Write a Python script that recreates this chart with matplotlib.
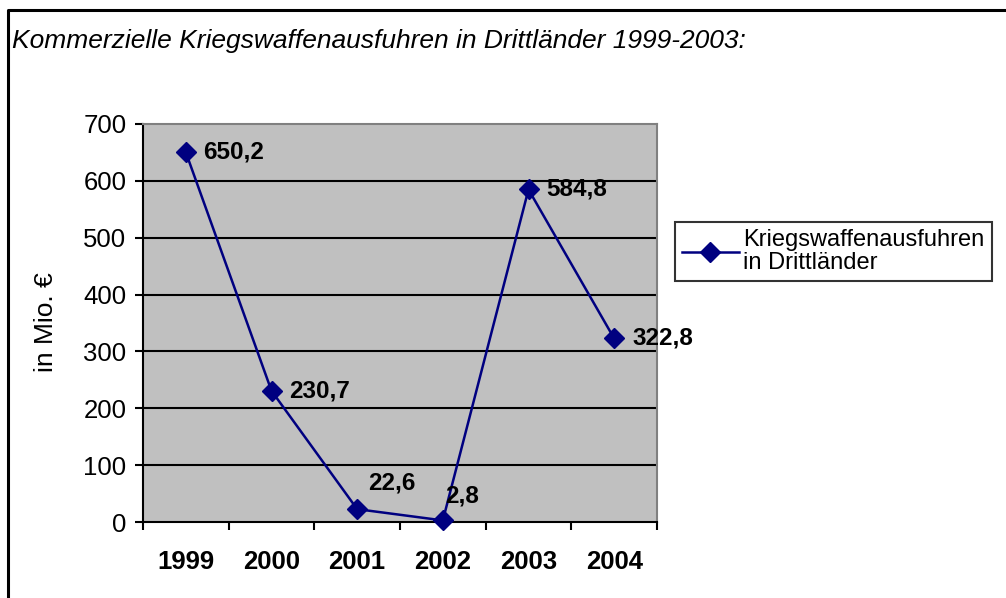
import matplotlib
matplotlib.use("Agg")
import matplotlib.pyplot as plt
from matplotlib.lines import Line2D

years = ["1999", "2000", "2001", "2002", "2003", "2004"]
values = [650.2, 230.7, 22.6, 2.8, 584.8, 322.8]
labels = ["650,2", "230,7", "22,6", "2,8", "584,8", "322,8"]
series_name = "Kriegswaffenausfuhren\nin Drittländer"
title = "Kommerzielle Kriegswaffenausfuhren in Drittländer 1999-2003:"
ylabel = "in Mio. €"
yticks = [0, 100, 200, 300, 400, 500, 600, 700]

# label offsets in pixels (style)
label_offsets = [(17, 0), (18, 0), (11, 26), (2, 24), (18, 0), (18, 0)]

plt.rcParams['font.family'] = ['Liberation Sans', 'DejaVu Sans']

W, H = 1006, 598
fig = plt.figure(figsize=(W / 100, H / 100), dpi=100)
fig.patch.set_facecolor("white")

def fx(px):
    return px / W

def fy(py):
    return 1 - py / H

left, right, top, bottom = 143, 657, 124, 522
ax = fig.add_axes([fx(left), fy(bottom), fx(right - left), (bottom - top) / H])
ax.set_facecolor("#C0C0C0")

x = list(range(len(years)))
ax.plot(x, values, color="#000080", lw=1.8, marker="D", markersize=10,
        markerfacecolor="#000080", markeredgecolor="#000080",
        label=series_name, zorder=3, clip_on=False)

for xi, v, lab, off in zip(x, values, labels, label_offsets):
    ax.annotate(lab, (xi, v), xytext=off, textcoords="offset pixels",
                ha="left", va="center", fontsize=17.5, fontweight="bold",
                color="black", zorder=4, annotation_clip=False)

ax.set_xlim(-0.5, len(years) - 0.5)
ax.set_ylim(0, 700)
ax.set_yticks(yticks)
ax.set_yticklabels([str(t) for t in yticks], fontsize=18.5)
for t in yticks[1:-1]:
    ax.axhline(t, color="black", lw=1.5, zorder=1)

ax.set_xticks([i - 0.5 for i in range(len(years) + 1)])
ax.set_xticklabels([])
ax.set_xticks(x, minor=True)
ax.set_xticklabels(years, minor=True, fontsize=18.5, fontweight="bold")
ax.tick_params(axis="x", which="major", direction="out", length=6, width=1.5, color="black")
ax.tick_params(axis="x", which="minor", length=0, pad=20)
ax.tick_params(axis="y", direction="out", length=6, width=1.5, color="black", pad=6)

for s in ["left", "bottom"]:
    ax.spines[s].set_color("black")
    ax.spines[s].set_linewidth(1.5)
for s in ["top", "right"]:
    ax.spines[s].set_color("#808080")
    ax.spines[s].set_linewidth(1.5)

fig.text(fx(46), fy(322), ylabel, rotation=90, ha="center", va="center", fontsize=19)
fig.text(fx(12), fy(41), title, ha="left", va="center", fontsize=19, style="italic")

leg = ax.legend(loc="upper left", bbox_to_anchor=(fx(675), fy(222)),
                bbox_transform=fig.transFigure, fontsize=17, frameon=True,
                fancybox=False, edgecolor="black", borderpad=0.3,
                handlelength=2.4, handletextpad=0.2, borderaxespad=0,
                labelspacing=0.1)
for t in leg.get_texts():
    t.set_linespacing(1.05)
leg.get_frame().set_linewidth(1.5)
leg.get_frame().set_facecolor("white")

# outer frame (top and left visible)
fig.add_artist(Line2D([fx(8), fx(8), fx(W)], [0, fy(10), fy(10)],
                      transform=fig.transFigure, color="black", lw=2.2))

fig.savefig("out.png", dpi=100)
